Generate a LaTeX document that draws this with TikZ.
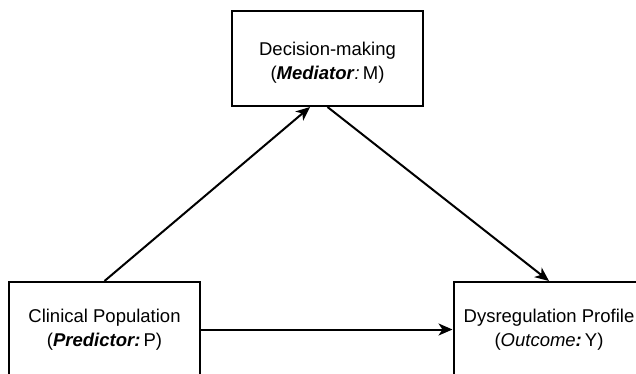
\documentclass[tikz,border=0pt]{standalone}
\usepackage{fontspec}
\setmainfont{Liberation Sans}
\usetikzlibrary{arrows.meta}
\tikzset{
  box/.style={draw=black, line width=2pt, minimum width=191pt, minimum height=95pt,
    inner sep=0pt, align=center, font=\fontsize{18.5}{24}\selectfont},
  conn/.style={line width=2pt, -{Stealth[length=14pt,width=12pt,inset=4pt]}}
}
\newcommand{\lowerln}[1]{\raisebox{-4pt}[\height][\depth]{#1}}
\begin{document}
\begin{tikzpicture}[x=1pt,y=1pt]
\useasboundingbox (0,0) rectangle (636,373);
\clip (0,0) rectangle (636,373);
\node[box] (M) at (327.5,314.5) {\lowerln{Decision-making}\\\lowerln{(\textbf{\textit{Mediator}}\textit{:}\,M)}};
\node[box] (P) at (104.5,43.5) {Clinical Population\\(\textbf{\textit{Predictor:}}\,P)};
\node[box] (Y) at (549,43.5) {Dysregulation Profile\\(\textit{Outcome}\textbf{\textit{:}}\,Y)};
\coordinate (Min) at ([xshift=-17.5pt]M.south);
\draw[conn] (P.north) -- (Min);
\draw[conn] (M.south) -- (Y.north);
\draw[conn] (P.east) -- (Y.west);
\end{tikzpicture}
\end{document}
